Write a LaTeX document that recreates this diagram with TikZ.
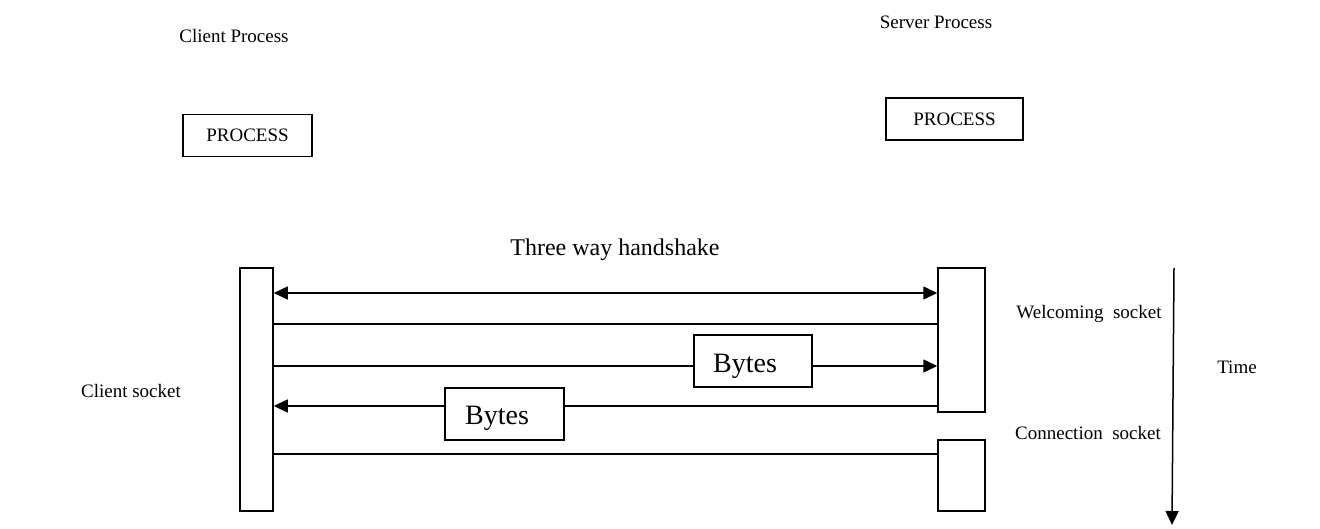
\documentclass[tikz,border=0pt]{standalone}
\usepackage{fontspec}
\setmainfont{Liberation Serif}
\usetikzlibrary{arrows.meta}
\begin{document}
\begin{tikzpicture}[x=1pt,y=-1pt, line width=1.5pt,
  lbl/.style={inner sep=0pt, font=\fontsize{19}{22}\selectfont},
  box/.style={draw, inner sep=0pt, fill=white},
  procbox/.style={box, font=\fontsize{19}{22}\selectfont},
  bytesbox/.style={box, font=\fontsize{28}{32}\selectfont},
  tip/.style={-{Triangle[length=14pt,width=13pt]}},
  twotip/.style={{Triangle[length=14pt,width=13pt]}-{Triangle[length=14pt,width=13pt]}},
]
\useasboundingbox (0,0) rectangle (1320,529);
% titles
\node[lbl] (cp) at (234,36) {Client Process};
\node[lbl] (sp) at (936,22) {Server Process};
\node[procbox, minimum width=129pt, minimum height=42pt] (cproc) at (247.5,135.5) {PROCESS};
\node[procbox, minimum width=137pt, minimum height=42pt] (sproc) at (954.5,119) {PROCESS};
\node[inner sep=0pt, font=\fontsize{24}{28}\selectfont] (hs) at (615,250) {Three way handshake};
% bars
\node[box, minimum width=33pt, minimum height=243pt] (cbar) at (256.5,389.5) {};
\node[box, minimum width=47pt, minimum height=144pt] (wbar) at (961.5,340) {};
\node[box, minimum width=47pt, minimum height=71pt] (kbar) at (961.5,475.5) {};
% bytes boxes
\node[bytesbox, minimum width=118pt, minimum height=52pt] (b1) at (753,361) {\hspace*{-16pt}\raisebox{-11pt}[0pt][0pt]{Bytes}};
\node[bytesbox, minimum width=119pt, minimum height=52pt] (b2) at (504.5,414) {\hspace*{-15pt}\raisebox{-10pt}[0pt][0pt]{Bytes}};
% connectors
\draw[twotip] (cbar.east |- 0,293) -- (wbar.west |- 0,293);
\draw (cbar.east |- 0,324) -- (wbar.west |- 0,324);
\draw (cbar.east |- 0,366) -- (b1.west |- 0,366);
\draw[tip] (b1.east |- 0,366) -- (wbar.west |- 0,366);
\draw (wbar.west |- 0,406) -- (b2.east |- 0,406);
\draw[tip] (b2.west |- 0,406) -- (cbar.east |- 0,406);
\draw (cbar.east |- 0,454) -- (kbar.west |- 0,454);
% time axis
\coordinate (t0) at (1174,268);
\coordinate (t1) at (1172,525);
\draw[tip] (t0) -- (t1);
% labels
\node[lbl] (ws) at (1089,314) {Welcoming\ \ socket};
\node[lbl] (cs) at (1088,433) {Connection\ \ socket};
\node[lbl] (tm) at (1237,367) {Time};
\node[lbl] (cl) at (131,391) {Client socket};
\end{tikzpicture}
\end{document}
